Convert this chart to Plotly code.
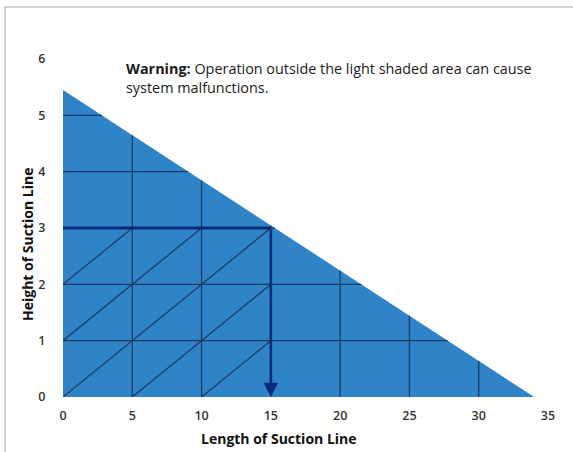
import plotly.graph_objects as go

# ---- data ----
max_length = 34.0      # x-intercept of the operating boundary
max_height = 5.45      # y-intercept of the operating boundary
boundary_x = [0, 0, max_length, 0]
boundary_y = [0, max_height, 0, 0]

grid_x = [5, 10, 15, 20, 25, 30]
grid_y = [1, 2, 3, 4, 5]

diag_start_x = [0, 0, 0, 5, 10]
diag_start_y = [0, 1, 2, 0, 0]
diag_end_x = [15, 10, 5, 15, 15]
diag_end_y = [3, 3, 3, 2, 1]

example_length = 15
example_height = 3

x_ticks = [0, 5, 10, 15, 20, 25, 30, 35]
y_ticks = [0, 1, 2, 3, 4, 5, 6]

FILL = "#2e84c7"
GRID = "#1c3b63"
NAVY = "#0c2a78"
FONT = "Open Sans"

W, H = 573, 452
PL, PT, PW, PH = 63, 59, 485, 338


def px_x(px):
    return (px - PL) / PW


def px_y(py):
    return (PT + PH - py) / PH


def hyp_y(x):
    return max_height * (1 - x / max_length)


def hyp_x(y):
    return max_length * (1 - y / max_height)


fig = go.Figure()

fig.add_trace(go.Scatter(x=boundary_x, y=boundary_y, mode="lines", fill="toself",
                         fillcolor=FILL, line=dict(color=FILL, width=0),
                         hoverinfo="skip", showlegend=False))

# grid lines clipped to triangle
gx, gy = [], []
for x in grid_x:
    gx += [x, x, None]
    gy += [0, hyp_y(x), None]
for y in grid_y:
    gx += [0, hyp_x(y), None]
    gy += [y, y, None]
fig.add_trace(go.Scatter(x=gx, y=gy, mode="lines", line=dict(color=GRID, width=1.3),
                         hoverinfo="skip", showlegend=False))

# diagonal lines
dx, dy = [], []
for x0, y0, x1, y1 in zip(diag_start_x, diag_start_y, diag_end_x, diag_end_y):
    dx += [x0, x1, None]
    dy += [y0, y1, None]
fig.add_trace(go.Scatter(x=dx, y=dy, mode="lines", line=dict(color=GRID, width=1.3),
                         hoverinfo="skip", showlegend=False))

# example path
fig.add_trace(go.Scatter(x=[0, example_length], y=[example_height, example_height],
                         mode="lines", line=dict(color=NAVY, width=3),
                         hoverinfo="skip", showlegend=False))
fig.add_annotation(x=example_length, y=0, ax=example_length, ay=example_height,
                   xref="x", yref="y", axref="x", ayref="y", text="",
                   showarrow=True, arrowhead=2, arrowsize=1.1, arrowwidth=2.6,
                   arrowcolor=NAVY, standoff=0)

fig.add_annotation(x=px_x(124), y=px_y(57), xref="paper", yref="paper", xanchor="left",
                   yanchor="top", align="left", showarrow=False,
                   text="<b>Warning:</b> Operation outside the light shaded area can cause<br>system malfunctions.",
                   font=dict(family=FONT, size=14.4, color="#1a1a1a"))

# axis titles
fig.add_annotation(x=px_x(279), y=px_y(438), xref="paper", yref="paper",
                   xanchor="center", yanchor="middle",
                   showarrow=False, text="<b>Length of Suction Line</b>",
                   font=dict(family=FONT, size=14, color="#111"))
fig.add_annotation(x=px_x(28), y=px_y(245), xref="paper", yref="paper",
                   xanchor="center", yanchor="middle",
                   showarrow=False, textangle=-90, text="<b>Height of Suction Line</b>",
                   font=dict(family=FONT, size=14, color="#111"))

# frame
fig.add_shape(type="rect", xref="paper", yref="paper",
              x0=px_x(5), x1=1.5, y0=-0.5, y1=px_y(7),
              line=dict(color="#c4c4c4", width=1.5), layer="below")

fig.update_layout(
    width=W, height=H,
    margin=dict(l=PL, r=W - PL - PW, t=PT, b=H - PT - PH),
    plot_bgcolor="white", paper_bgcolor="white",
    font=dict(family=FONT, size=12, color="#333"),
    xaxis=dict(range=[0, 35], tickvals=x_ticks, showgrid=False, zeroline=False,
               showline=False, ticks="outside", ticklen=7, tickcolor="rgba(0,0,0,0)",
               automargin=False,
               tickfont=dict(family=FONT, size=12.5, color="#333", weight=600)),
    yaxis=dict(range=[0, 6], tickvals=y_ticks, showgrid=False, zeroline=False,
               showline=False, ticks="outside", ticklen=14, tickcolor="rgba(0,0,0,0)",
               automargin=False,
               tickfont=dict(family=FONT, size=12.5, color="#333", weight=600)),
    showlegend=False,
)

fig.write_html("out.html", config={"displayModeBar": False},
               post_script="document.body.style.margin='0';document.body.style.overflow='hidden';")
